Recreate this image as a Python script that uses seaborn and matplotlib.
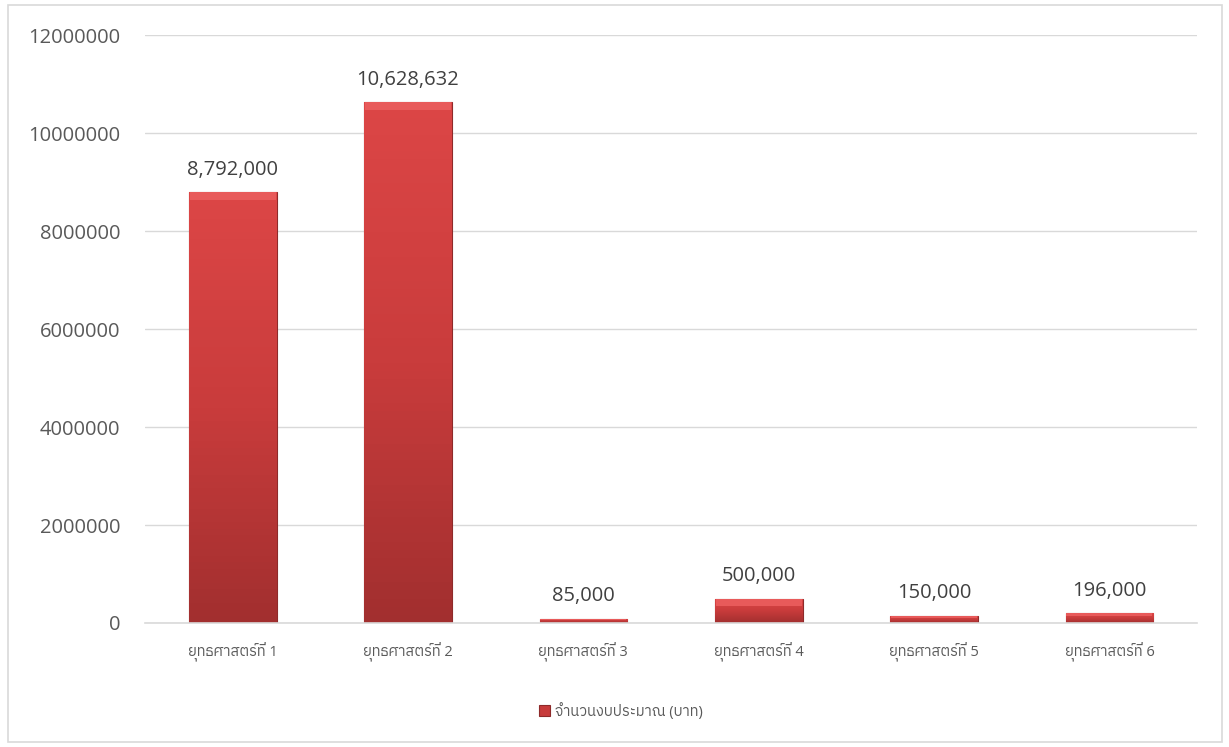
import matplotlib
matplotlib.use('Agg')
import matplotlib.pyplot as plt
from matplotlib import font_manager
from matplotlib.ft2font import FT2Font
from matplotlib.patches import Rectangle
from matplotlib.colors import LinearSegmentedColormap
import numpy as np
import pandas as pd
import seaborn as sns

categories = ['ยุทธศาสตร์ที่ 1', 'ยุทธศาสตร์ที่ 2', 'ยุทธศาสตร์ที่ 3',
              'ยุทธศาสตร์ที่ 4', 'ยุทธศาสตร์ที่ 5', 'ยุทธศาสตร์ที่ 6']
budget = [8792000, 10628632, 85000, 500000, 150000, 196000]
yticks = [0, 2000000, 4000000, 6000000, 8000000, 10000000, 12000000]
series_name = 'จำนวนงบประมาณ (บาท)'


def find_thai_font():
    # look for any installed font that has Thai glyphs
    found = []
    for f in font_manager.fontManager.ttflist:
        try:
            cmap = FT2Font(f.fname).get_charmap()
        except Exception:
            continue
        if 0x0E22 in cmap and 0x0E48 in cmap:
            found.append(f.name)
    found = sorted(set(found), key=lambda n: ('Sans' not in n, n))
    return found[0] if found else None


sns.set_theme(style='white')
thai_font = find_thai_font()
fam = ['Open Sans']
if thai_font:
    fam.append(thai_font)
fam.append('DejaVu Sans')
plt.rcParams['font.family'] = fam

df = pd.DataFrame({'category': categories, 'budget': budget})

fig = plt.figure(figsize=(12.29, 7.47), dpi=100)
ax = fig.add_axes([0.118, 0.166, 0.856, 0.787])

sns.barplot(data=df, x='category', y='budget', color='#C73B3B', width=0.5,
            ax=ax, label=series_name, saturation=1)
handles, labels = ax.get_legend_handles_labels()
if ax.get_legend() is not None:
    ax.get_legend().remove()

# vertical gradient on every bar, roughly like the Excel bevel look
grad = LinearSegmentedColormap.from_list('bar', ['#A22F2F', '#C93C3C', '#DC4646'])
for p in ax.patches:
    x0, y0 = p.get_x(), p.get_y()
    w, h = p.get_width(), p.get_height()
    p.set_edgecolor('#8E2A2A')
    p.set_linewidth(0.8)
    img = ax.imshow(np.linspace(0, 1, 64).reshape(-1, 1), cmap=grad,
                    extent=[x0, x0 + w, y0, y0 + h], origin='lower',
                    aspect='auto', zorder=p.get_zorder() + 0.1)
    img.set_clip_path(p)
    # light strip on top edge
    top = min(h * 0.3, 150000)
    ax.add_patch(Rectangle((x0 + w * 0.01, y0 + h - top), w * 0.98, top,
                           color='#E85A5A', lw=0, zorder=p.get_zorder() + 0.2))

for i, v in enumerate(budget):
    ax.annotate(f'{v:,}', (i, v), xytext=(0, 9), textcoords='offset points',
                ha='center', va='bottom', fontsize=14.5, color='#404040')

ax.set_xlim(-0.5, len(categories) - 0.5)
ax.set_ylim(0, 12000000)
ax.set_yticks(yticks)
ax.set_yticklabels([str(t) for t in yticks])
ax.yaxis.grid(True, color='#D9D9D9', lw=1)
ax.set_axisbelow(True)
ax.set_xlabel('')
ax.set_ylabel('')
for s in ['top', 'right', 'left']:
    ax.spines[s].set_visible(False)
ax.spines['bottom'].set_color('#D9D9D9')
ax.spines['bottom'].set_linewidth(1.2)
ax.tick_params(axis='y', length=0, pad=18, labelsize=14.5, labelcolor='#595959')
ax.tick_params(axis='x', length=0, pad=14, labelsize=10.5, labelcolor='#595959')

fig.legend(handles[:1], labels[:1], loc='center', bbox_to_anchor=(0.505, 0.048),
           frameon=False, fontsize=10.5, handlelength=0.8, handleheight=0.8,
           handletextpad=0.3, labelcolor='#595959')

fig.patches.append(Rectangle((8 / 1229, 5 / 747), 1214 / 1229, 737 / 747,
                             transform=fig.transFigure, fill=False,
                             edgecolor='#D9D9D9', lw=1.2))

fig.savefig('out.png', dpi=100, facecolor='white')
